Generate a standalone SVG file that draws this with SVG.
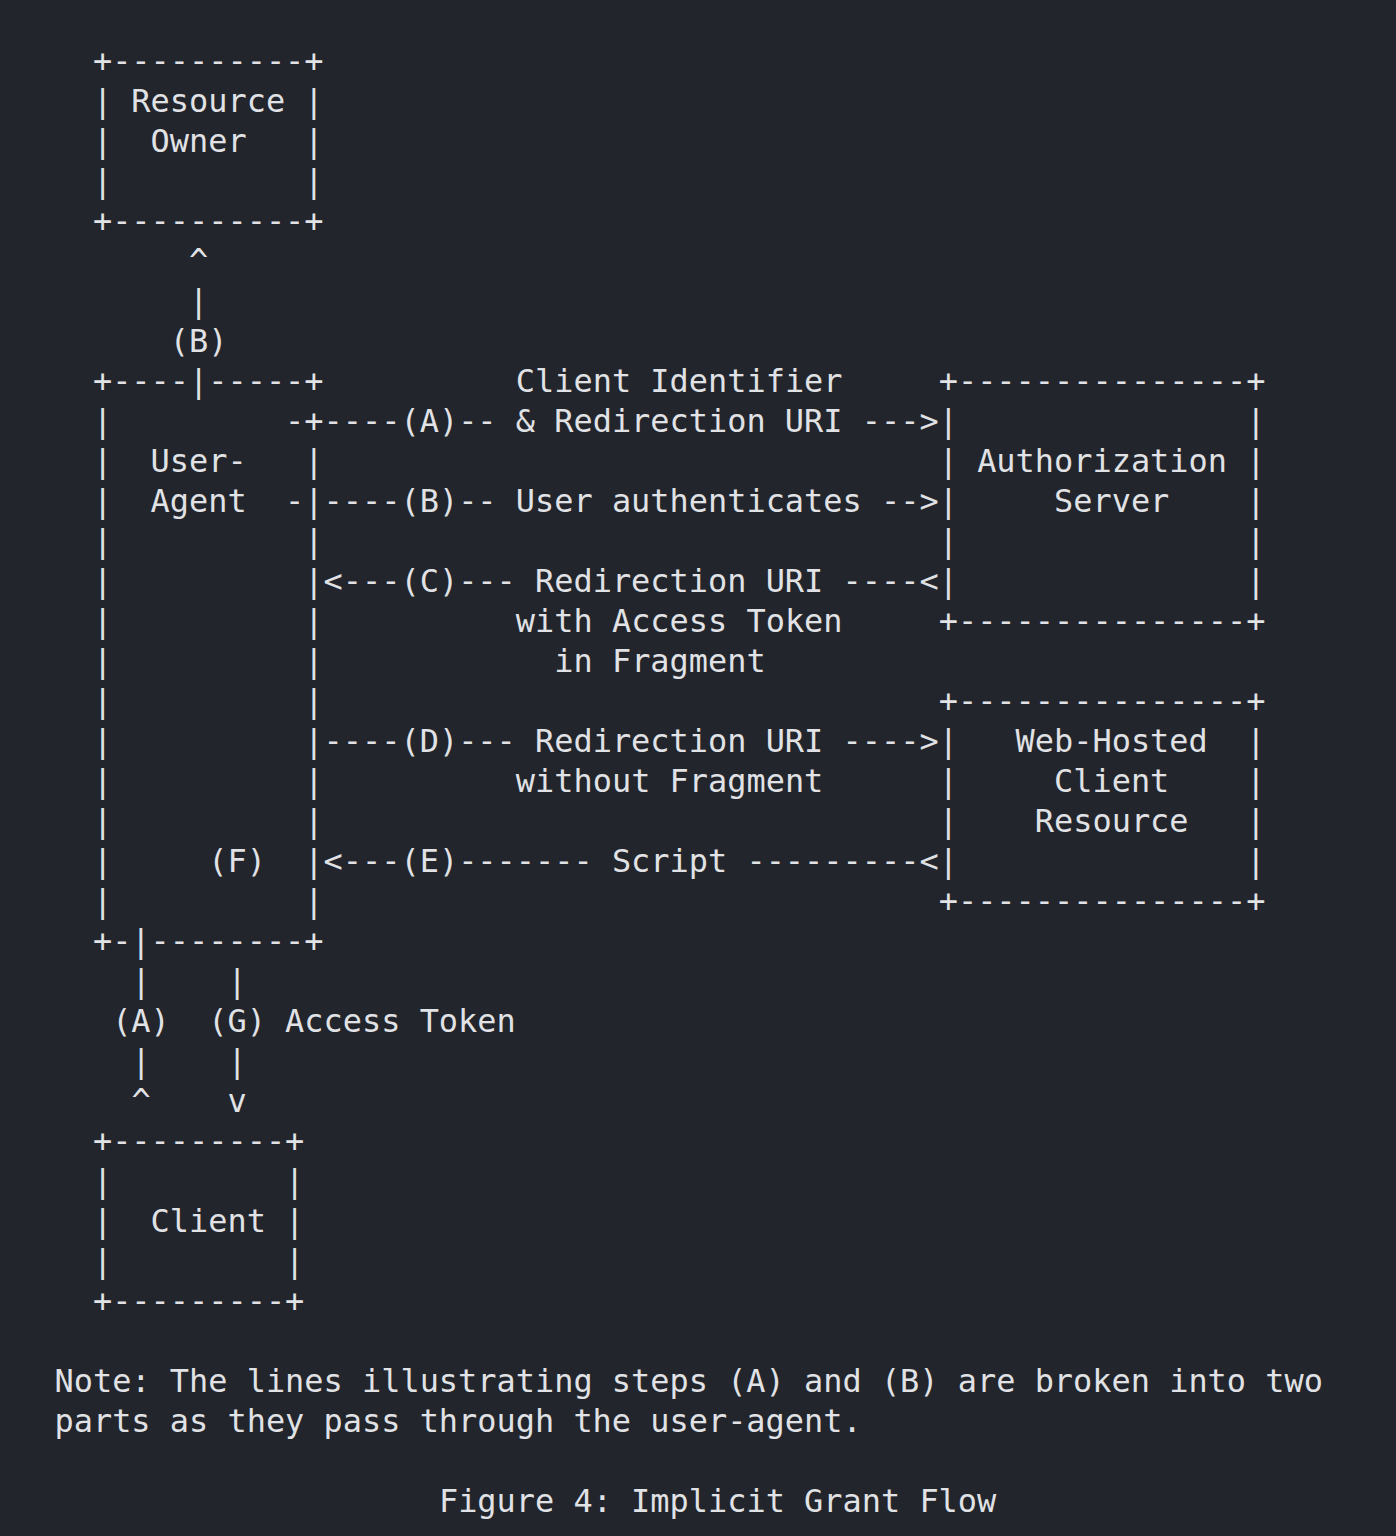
<svg xmlns="http://www.w3.org/2000/svg" width="1396" height="1536" viewBox="0 0 1396 1536">
<style>
.t text{font-family:"DejaVu Sans Mono","Liberation Mono",monospace;font-size:31.93px;fill:#e0e2e6;white-space:pre}
</style>
<rect x="0" y="0" width="1396" height="1536" fill="#22252b"/>
<g id="node-resource-owner" class="t">
<text x="92.94" y="71.7">+----------+</text>
<text x="92.94" y="111.7">|&#160;Resource&#160;|</text>
<text x="92.94" y="151.7">|&#160;&#160;Owner&#160;&#160;&#160;|</text>
<text x="92.94" y="191.7">|&#160;&#160;&#160;&#160;&#160;&#160;&#160;&#160;&#160;&#160;|</text>
<text x="92.94" y="231.7">+----------+</text>
</g>
<g id="node-user-agent" class="t">
<text x="92.94" y="391.7">+----|-----+</text>
<text x="92.94" y="431.7">|&#160;&#160;&#160;&#160;&#160;&#160;&#160;&#160;&#160;-+</text>
<text x="92.94" y="471.7">|&#160;&#160;User-&#160;&#160;&#160;|</text>
<text x="92.94" y="511.7">|&#160;&#160;Agent&#160;&#160;-|</text>
<text x="92.94" y="551.7">|&#160;&#160;&#160;&#160;&#160;&#160;&#160;&#160;&#160;&#160;|</text>
<text x="92.94" y="591.7">|&#160;&#160;&#160;&#160;&#160;&#160;&#160;&#160;&#160;&#160;|</text>
<text x="92.94" y="631.7">|&#160;&#160;&#160;&#160;&#160;&#160;&#160;&#160;&#160;&#160;|</text>
<text x="92.94" y="671.7">|&#160;&#160;&#160;&#160;&#160;&#160;&#160;&#160;&#160;&#160;|</text>
<text x="92.94" y="711.7">|&#160;&#160;&#160;&#160;&#160;&#160;&#160;&#160;&#160;&#160;|</text>
<text x="92.94" y="751.7">|&#160;&#160;&#160;&#160;&#160;&#160;&#160;&#160;&#160;&#160;|</text>
<text x="92.94" y="791.7">|&#160;&#160;&#160;&#160;&#160;&#160;&#160;&#160;&#160;&#160;|</text>
<text x="92.94" y="831.7">|&#160;&#160;&#160;&#160;&#160;&#160;&#160;&#160;&#160;&#160;|</text>
<text x="92.94" y="871.7">|&#160;&#160;&#160;&#160;&#160;(F)&#160;&#160;|</text>
<text x="92.94" y="911.7">|&#160;&#160;&#160;&#160;&#160;&#160;&#160;&#160;&#160;&#160;|</text>
<text x="92.94" y="951.7">+-|--------+</text>
</g>
<g id="node-authorization-server" class="t">
<text x="938.71" y="391.7">+---------------+</text>
<text x="938.71" y="431.7">|&#160;&#160;&#160;&#160;&#160;&#160;&#160;&#160;&#160;&#160;&#160;&#160;&#160;&#160;&#160;|</text>
<text x="938.71" y="471.7">|&#160;Authorization&#160;|</text>
<text x="938.71" y="511.7">|&#160;&#160;&#160;&#160;&#160;Server&#160;&#160;&#160;&#160;|</text>
<text x="938.71" y="551.7">|&#160;&#160;&#160;&#160;&#160;&#160;&#160;&#160;&#160;&#160;&#160;&#160;&#160;&#160;&#160;|</text>
<text x="938.71" y="591.7">|&#160;&#160;&#160;&#160;&#160;&#160;&#160;&#160;&#160;&#160;&#160;&#160;&#160;&#160;&#160;|</text>
<text x="938.71" y="631.7">+---------------+</text>
</g>
<g id="node-web-hosted-client-resource" class="t">
<text x="938.71" y="711.7">+---------------+</text>
<text x="938.71" y="751.7">|&#160;&#160;&#160;Web-Hosted&#160;&#160;|</text>
<text x="938.71" y="791.7">|&#160;&#160;&#160;&#160;&#160;Client&#160;&#160;&#160;&#160;|</text>
<text x="938.71" y="831.7">|&#160;&#160;&#160;&#160;Resource&#160;&#160;&#160;|</text>
<text x="938.71" y="871.7">|&#160;&#160;&#160;&#160;&#160;&#160;&#160;&#160;&#160;&#160;&#160;&#160;&#160;&#160;&#160;|</text>
<text x="938.71" y="911.7">+---------------+</text>
</g>
<g id="node-client" class="t">
<text x="92.94" y="1151.7">+---------+</text>
<text x="92.94" y="1191.7">|&#160;&#160;&#160;&#160;&#160;&#160;&#160;&#160;&#160;|</text>
<text x="92.94" y="1231.7">|&#160;&#160;Client&#160;|</text>
<text x="92.94" y="1271.7">|&#160;&#160;&#160;&#160;&#160;&#160;&#160;&#160;&#160;|</text>
<text x="92.94" y="1311.7">+---------+</text>
</g>
<g id="connectors" class="t">
<text x="189.05" y="271.7">^</text>
<text x="189.05" y="311.7">|</text>
<text x="169.83" y="351.7">(B)</text>
<text x="515.83" y="391.7">Client&#160;Identifier</text>
<text x="323.61" y="431.7">----(A)--&#160;&amp;&#160;Redirection&#160;URI&#160;---&gt;</text>
<text x="323.61" y="511.7">----(B)--&#160;User&#160;authenticates&#160;--&gt;</text>
<text x="323.61" y="591.7">&lt;---(C)---&#160;Redirection&#160;URI&#160;----&lt;</text>
<text x="515.83" y="631.7">with&#160;Access&#160;Token</text>
<text x="554.27" y="671.7">in&#160;Fragment</text>
<text x="323.61" y="751.7">----(D)---&#160;Redirection&#160;URI&#160;----&gt;</text>
<text x="515.83" y="791.7">without&#160;Fragment</text>
<text x="323.61" y="871.7">&lt;---(E)-------&#160;Script&#160;---------&lt;</text>
<text x="131.39" y="991.7">|&#160;&#160;&#160;&#160;|</text>
<text x="112.17" y="1031.7">(A)&#160;&#160;(G)&#160;Access&#160;Token</text>
<text x="131.39" y="1071.7">|&#160;&#160;&#160;&#160;|</text>
<text x="131.39" y="1111.7">^&#160;&#160;&#160;&#160;v</text>
</g>
<g id="notes" class="t">
<text x="54.5" y="1391.7">Note:&#160;The&#160;lines&#160;illustrating&#160;steps&#160;(A)&#160;and&#160;(B)&#160;are&#160;broken&#160;into&#160;two</text>
<text x="54.5" y="1431.7">parts&#160;as&#160;they&#160;pass&#160;through&#160;the&#160;user-agent.</text>
<text x="438.94" y="1511.7">Figure&#160;4:&#160;Implicit&#160;Grant&#160;Flow</text>
</g>
</svg>
